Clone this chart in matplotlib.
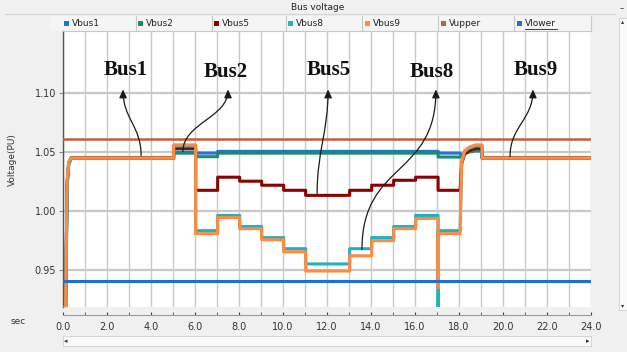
import matplotlib
matplotlib.use("Agg")
import matplotlib.pyplot as plt
from matplotlib.path import Path
from matplotlib.patches import FancyArrowPatch, Rectangle
from matplotlib.lines import Line2D

W, H = 627, 352

# time base (s)
startup_t = [0.0, 0.12, 0.15, 0.19, 0.26, 0.38]
step_t = [5.03, 6.03, 7.03, 8.03, 9.03, 10.03, 11.03, 13.03, 14.03, 15.03, 16.03, 17.05]
recovery_t = [18.05, 18.12, 18.25, 18.45, 18.75, 19.05]
end_t = 24.0

# bus voltages (PU): startup ramp, level for each interval, recovery after 18 s
vbus1_start = [0.918, 0.918, 0.970, 1.025, 1.041, 1.045]
vbus1_levels = [1.045, 1.050, 1.049, 1.0505, 1.0505, 1.0505, 1.0505, 1.0505,
                1.0505, 1.0505, 1.0505, 1.0505, 1.049, 1.045]
vbus1_recovery = [1.049, 1.047, 1.049, 1.050, 1.051, 1.051]

vbus2_start = [0.918, 0.918, 0.965, 1.022, 1.040, 1.045]
vbus2_levels = [1.045, 1.049, 1.046, 1.049, 1.049, 1.049, 1.049, 1.049,
                1.049, 1.049, 1.049, 1.049, 1.0457, 1.045]
vbus2_recovery = [1.0457, 1.046, 1.049, 1.050, 1.051, 1.051]

vbus5_start = [0.918, 0.918, 0.968, 1.024, 1.041, 1.045]
vbus5_levels = [1.045, 1.053, 1.0175, 1.0286, 1.0252, 1.0218, 1.0175, 1.0132,
                1.0175, 1.0218, 1.026, 1.0286, 1.0175, 1.045]
vbus5_recovery = [1.0175, 1.040, 1.048, 1.051, 1.053, 1.053]

vbus8_start = [0.918, 0.918, 0.960, 1.020, 1.039, 1.0445]
vbus8_levels = [1.0445, 1.055, 0.9833, 0.9962, 0.9868, 0.9774, 0.968, 0.9551,
                0.968, 0.9774, 0.9868, 0.9962, 0.9833, 1.0445]
vbus8_recovery = [0.9833, 1.040, 1.050, 1.053, 1.055, 1.055]
vbus8_dip = 0.918

vbus9_start = [0.918, 0.918, 0.975, 1.028, 1.042, 1.045]
vbus9_levels = [1.045, 1.056, 0.9808, 0.9944, 0.985, 0.9756, 0.9654, 0.9491,
                0.962, 0.9748, 0.985, 0.9936, 0.9808, 1.045]
vbus9_recovery = [0.9808, 1.042, 1.051, 1.054, 1.056, 1.056]
vbus9_dip = 0.935

v_upper = 1.061
v_lower = 0.9405

legend_names = ["Vbus1", "Vbus2", "Vbus5", "Vbus8", "Vbus9", "Vupper", "Vlower"]
colors = ["#1f78d1", "#1a8c6c", "#8b0000", "#1fb3c0", "#ff8a40", "#c0613a", "#1e6fd9"]

# bus label annotations: name, text anchor, arrow tail (on trace), arrow head
bus_labels = ["Bus1", "Bus2", "Bus5", "Bus8", "Bus9"]
label_pos = [(2.86, 1.1148), (7.41, 1.1131), (12.09, 1.1148), (16.77, 1.1131), (21.5, 1.1148)]
arrow_tail = [(3.55, 1.047), (5.45, 1.0505), (11.55, 1.0148), (13.59, 0.9674), (20.32, 1.0462)]
arrow_head = [(2.73, 1.103), (7.5, 1.103), (12.05, 1.103), (16.95, 1.103), (21.36, 1.103)]
arrow_bend = [0.45, 0.45, 0.4, 0.55, 0.45]


def trace(start_v, levels, recovery_v, dip=None):
    ts, vs = list(startup_t), list(start_v)
    starts = [startup_t[-1]] + step_t
    ends = step_t + [recovery_t[0]]
    for a, b, lv in zip(starts, ends, levels[:-1]):
        ts += [a, b]
        vs += [lv, lv]
        if dip is not None and b == step_t[-1]:
            ts.append(b)
            vs.append(dip)
    ts += recovery_t
    vs += recovery_v
    ts += [recovery_t[-1], end_t]
    vs += [levels[-1], levels[-1]]
    return ts, vs


def px(x, y):
    return x / W, 1 - y / H


fig = plt.figure(figsize=(W / 100, H / 100), dpi=100, facecolor="#f0f0f0")
ax = fig.add_axes([63 / W, 1 - 307 / H, 528 / W, 276 / H])
ax.set_facecolor("white")

series = [
    trace(vbus1_start, vbus1_levels, vbus1_recovery),
    trace(vbus2_start, vbus2_levels, vbus2_recovery),
    trace(vbus5_start, vbus5_levels, vbus5_recovery),
    trace(vbus8_start, vbus8_levels, vbus8_recovery, vbus8_dip),
    trace(vbus9_start, vbus9_levels, vbus9_recovery, vbus9_dip),
]
for (ts, vs), c in zip(series, colors):
    ax.plot(ts, vs, color=c, lw=2.2, zorder=3)

ax.axhline(v_upper, color=colors[5], lw=1.8, zorder=3)
ax.axhline(v_lower, color=colors[6], lw=2.2, zorder=3)

ax.set_xlim(0, 24)
ax.set_ylim(0.9186, 1.1525)
ax.set_xticks(range(0, 25, 2))
ax.set_xticks(range(1, 25, 2), minor=True)
ax.set_xticklabels([f"{t:.1f}" for t in range(0, 25, 2)])
ax.set_yticks([0.95, 1.00, 1.05, 1.10])
ax.set_yticklabels(["0.95", "1.00", "1.05", "1.10"])
ax.grid(axis="x", which="both", color="#c8c8c8", lw=1.0, zorder=1)
ax.grid(axis="y", color="#c8c8c8", lw=1.6, zorder=1)

for s in ["top", "right"]:
    ax.spines[s].set_visible(False)
ax.spines["left"].set_color("#555555")
ax.spines["left"].set_linewidth(1.0)
ax.spines["bottom"].set_position(("outward", 6))
ax.spines["bottom"].set_color("#9a9a9a")
ax.spines["bottom"].set_linewidth(0.8)
ax.tick_params(axis="x", which="both", direction="in", length=2.5, color="#444444",
               labelsize=7, labelcolor="#333333", pad=5)
ax.tick_params(axis="y", length=3, color="#888888", labelsize=7,
               labelcolor="#333333", pad=2)

# bus annotations
for name, pos, tail, head, k in zip(bus_labels, label_pos, arrow_tail, arrow_head, arrow_bend):
    ax.text(pos[0], pos[1], name, ha="center", va="baseline", fontsize=15,
            fontweight="bold", family="Liberation Serif", color="#111111", zorder=5)
    dy = head[1] - tail[1]
    verts = [tail, (tail[0], tail[1] + k * dy), (head[0], head[1] - k * dy), head]
    codes = [Path.MOVETO, Path.CURVE4, Path.CURVE4, Path.CURVE4]
    arr = FancyArrowPatch(path=Path(verts, codes),
                          arrowstyle="-|>,head_length=0.55,head_width=0.25",
                          mutation_scale=9, lw=0.9, color="#1a1a1a", zorder=5)
    ax.add_patch(arr)

# header: title, legend row
fig.text(*px(318, 7), "Bus voltage", ha="center", va="center", fontsize=6.5, color="#222222")
fig.add_artist(Line2D([5 / W, 615 / W], [1 - 14 / H] * 2, color="#d4d4d4", lw=0.8))
fig.add_artist(Rectangle(px(50, 31), 541 / W, 15 / H, facecolor="#f5f5f5",
                         edgecolor="none", zorder=0))
legend_x = [66, 140, 216, 290, 367, 443, 519]
sep_x = [136, 212, 286, 362, 438, 514, 591]
for name, c, x in zip(legend_names, colors, legend_x):
    fig.add_artist(Rectangle(px(x - 2.5, 25.5), 5 / W, 5 / H, facecolor=c, edgecolor="none"))
    fig.text(*px(x + 6, 23.5), name, ha="left", va="center", fontsize=6.5, color="#222222")
fig.add_artist(Line2D([525 / W, 557 / W], [1 - 29 / H] * 2, color="#222222", lw=0.6))
for x in sep_x:
    fig.add_artist(Line2D([x / W, x / W], [1 - 16 / H, 1 - 30 / H], color="#c8c8c8", lw=0.8))
fig.add_artist(Line2D([63 / W, 591 / W], [1 - 31 / H] * 2, color="#c8c8c8", lw=0.8))

# axis captions
fig.text(*px(18, 322), "sec", ha="center", va="center", fontsize=6.5, color="#333333")
fig.text(*px(12, 160), "Voltage(PU)", rotation=90, ha="center", va="center",
         fontsize=6.5, color="#333333")

# scrollbars
fig.add_artist(Rectangle(px(63, 346), 528 / W, 10 / H, facecolor="#fafafa",
                         edgecolor="#cfcfcf", lw=0.6))
fig.text(*px(66, 341), "◂", ha="center", va="center", fontsize=5, color="#333333")
fig.text(*px(588, 341), "▸", ha="center", va="center", fontsize=5, color="#333333")
fig.add_artist(Rectangle(px(619, 310), 8 / W, 292 / H, facecolor="#fafafa",
                         edgecolor="#cfcfcf", lw=0.6))
fig.text(*px(623, 22), "▴", ha="center", va="center", fontsize=4.5, color="#333333")
fig.text(*px(623, 306), "▾", ha="center", va="center", fontsize=4.5, color="#333333")
fig.text(*px(622, 9), "–", ha="center", va="center", fontsize=6, color="#333333")

fig.savefig("out.png", dpi=100, facecolor=fig.get_facecolor())
